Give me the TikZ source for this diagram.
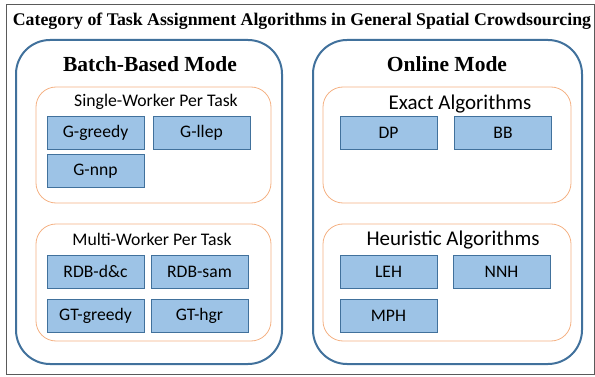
\documentclass[tikz,border=0pt]{standalone}
\usepackage{fontspec}
\setmainfont{Liberation Serif}
\newfontfamily\calib{Carlito}
\definecolor{modeblue}{HTML}{41719C}
\definecolor{boxfill}{HTML}{9DC3E6}
\definecolor{boxline}{HTML}{41719C}
\definecolor{grpline}{HTML}{F4B183}
\definecolor{frameline}{HTML}{5A5A5A}
\tikzset{
  modebox/.style={draw=modeblue, line width=2pt, rounded corners=34pt},
  grpbox/.style={draw=grpline, line width=0.8pt, rounded corners=20pt},
  algbox/.style={draw=boxline, fill=boxfill, line width=0.7pt, minimum width=97pt, minimum height=33pt, inner sep=0pt, font=\calib\fontsize{17.6}{20}\selectfont},
  modetitle/.style={font=\bfseries\fontsize{21.5}{24}\selectfont},
  grptitle/.style={font=\calib\fontsize{17.7}{20}\selectfont},
  grptitlebig/.style={font=\calib\fontsize{21}{24}\selectfont}
}
\begin{document}
\begin{tikzpicture}[x=1pt,y=-1pt]
\useasboundingbox (0,0) rectangle (595,377);
\draw[frameline, line width=0.8pt] (6,4) rectangle (594,374);
\node (title) at (302,21) {\bfseries\fontsize{17.8}{20}\selectfont Category of Task Assignment Algorithms in General Spatial Crowdsourcing};
% left mode
\draw[modebox] (16,40) rectangle (282,364);
\node[modetitle] (batch) at (150,64) {Batch-Based Mode};
\draw[grpbox] (36,87) rectangle (271,203);
\node[grptitle] (single) at (156,102) {Single-Worker Per Task};
\node[algbox] (ggreedy) at (95.5,132.5) {G-greedy};
\node[algbox] (gllep) at (201.5,132.5) {G-llep};
\node[algbox] (gnnp) at (95.5,171) {G-nnp};
\draw[grpbox] (36,224) rectangle (271,341);
\node[grptitle] (multi) at (152,239) {Multi-Worker Per Task};
\node[algbox] (rdbdc) at (95.5,271.5) {RDB-d\&c};
\node[algbox] (rdbsam) at (199.5,271.5) {RDB-sam};
\node[algbox] (gtgreedy) at (95.5,316) {GT-greedy};
\node[algbox] (gthgr) at (199.5,316) {GT-hgr};
% right mode
\draw[modebox] (313,40) rectangle (582,364);
\node[modetitle] (online) at (447,64) {Online Mode};
\draw[grpbox] (323,87) rectangle (571,203);
\node[grptitlebig] (exact) at (460,104) {Exact Algorithms};
\node[algbox] (dp) at (388.5,133) {DP};
\node[algbox] (bb) at (503,133) {BB};
\draw[grpbox] (323,224) rectangle (571,341);
\node[grptitlebig] (heur) at (453,240) {Heuristic Algorithms};
\node[algbox] (leh) at (388.5,271.5) {LEH};
\node[algbox] (nnh) at (501.5,271.5) {NNH};
\node[algbox] (mph) at (388.5,315.5) {MPH};
\end{tikzpicture}
\end{document}
